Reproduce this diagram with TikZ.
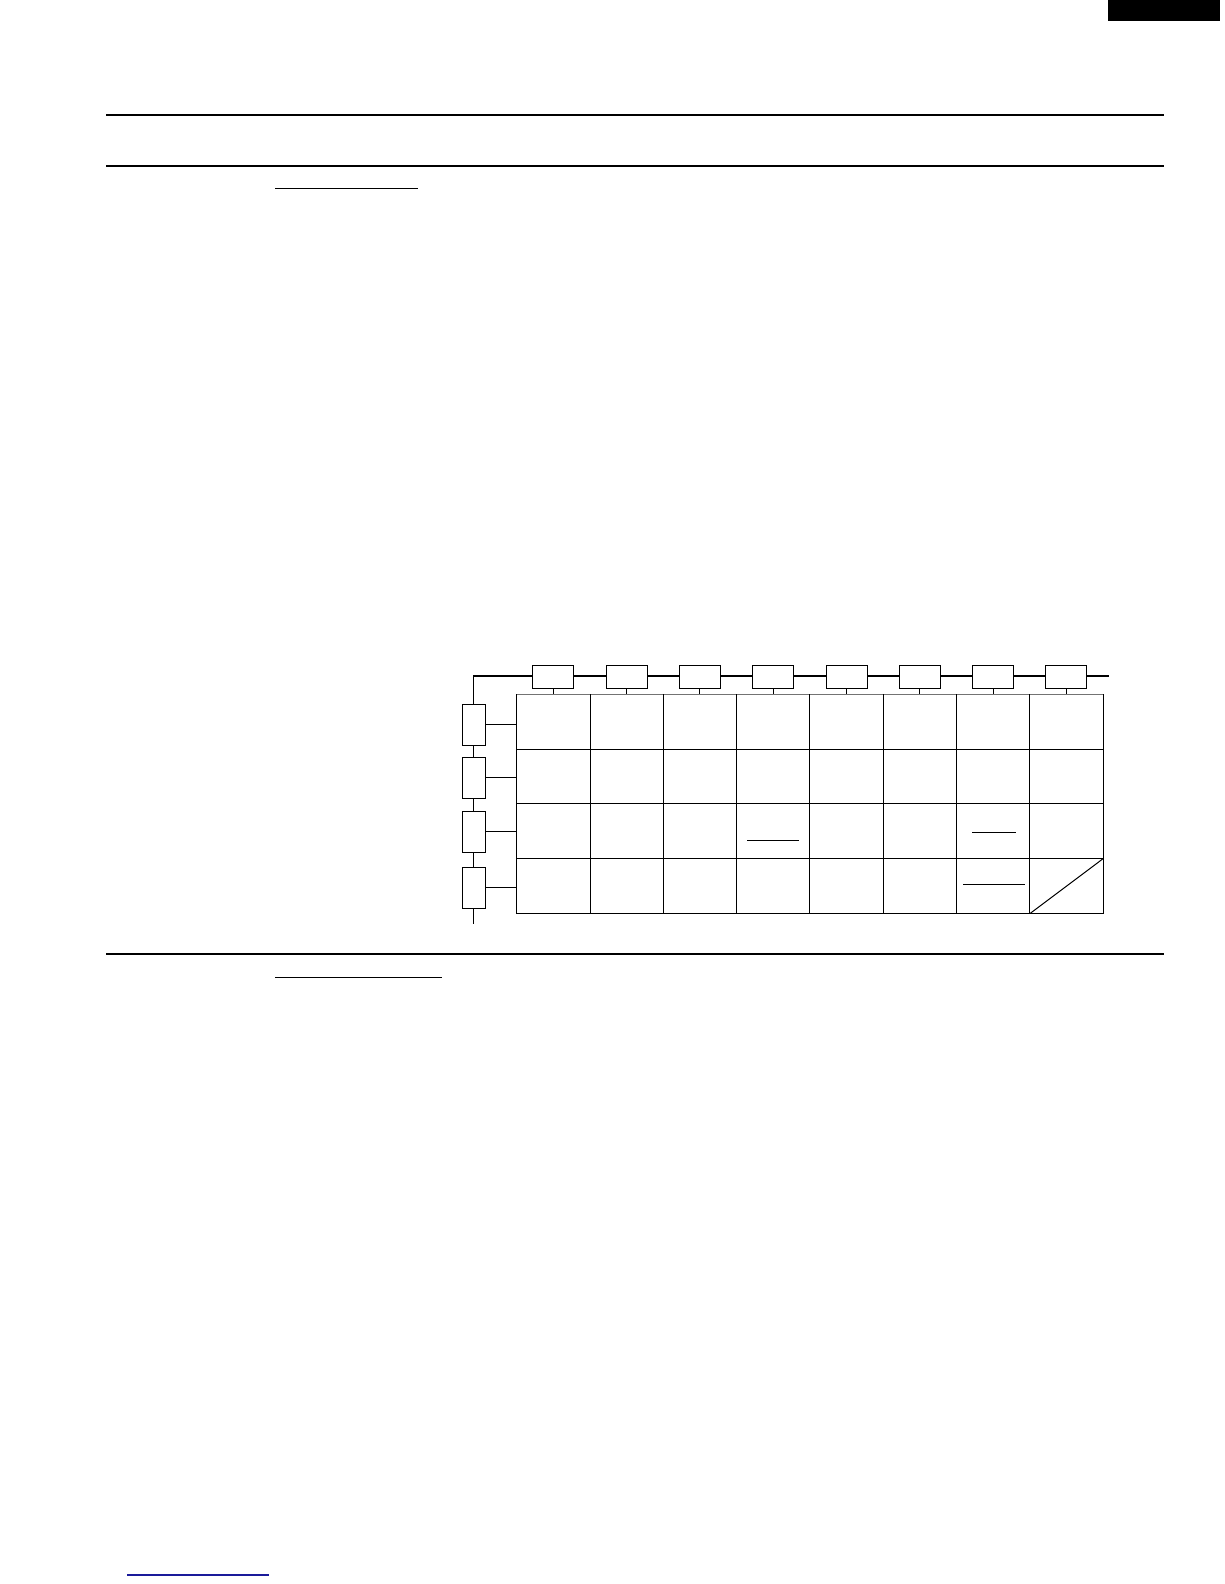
\documentclass[tikz,border=0pt]{standalone}
\definecolor{linkblue}{RGB}{26,26,154}
\begin{document}
\begin{tikzpicture}[x=1pt,y=-1pt,
  rule/.style={line width=2pt},
  bus/.style={line width=1.7pt},
  gridline/.style={line width=1pt},
  uline/.style={line width=1pt},
  tbox/.style={draw,line width=1pt,minimum width=41pt,minimum height=23pt,inner sep=0pt,fill=white},
  lbox/.style={draw,line width=1pt,minimum width=23pt,minimum height=41pt,inner sep=0pt,fill=white},
]
\useasboundingbox (0,0) rectangle (1224,1584);
% black tab at top right
\fill (1108,0) rectangle (1220,21);
% page rules
\draw[rule] (106,115) -- (1164,115);
\draw[rule] (106,166) -- (1164,166);
\draw[rule] (106,954) -- (1164,954);
% heading underlines
\draw[uline] (275,188) -- (418,188);
\draw[uline] (275,977) -- (442,977);
\draw[line width=1.3pt,linkblue] (127,1575) -- (269,1575);
% bus
\coordinate (busTL) at (473.5,676);
\coordinate (busR) at (1109,676);
\coordinate (busB) at (473.5,923.5);
\draw[bus] (busB) -- (busTL) -- (busR);
% grid frame
\node[minimum width=586.6pt,minimum height=219pt,inner sep=0pt,outer sep=0pt,anchor=north west] (grid) at (516.7,694.3) {};
% top boxes
\foreach \i in {1,...,8}{
  \node[tbox] (t\i) at ({516.7+73.3*(\i-0.5)},676.8) {};
  \draw[gridline] (t\i.south) -- (t\i.south |- grid.north);
}
% left boxes
\foreach \j/\y in {1/724.8,2/777.8,3/831.8,4/887.8}{
  \node[lbox] (l\j) at (473.8,\y) {};
  \draw[gridline] (l\j.east) -- (l\j.east -| grid.west);
}
% grid lines
\draw[gridline,black!55] (grid.north west) -- (grid.north east);
\draw[gridline] (grid.north east) -- (grid.south east) -- (grid.south west) -- (grid.north west);
\foreach \i in {1,...,7}{
  \draw[gridline] ({516.7+73.3*\i},694.3) -- ({516.7+73.3*\i},913.3);
}
\foreach \j in {1,2,3}{
  \draw[gridline] (516.7,{694.3+54.75*\j}) -- (1103.3,{694.3+54.75*\j});
}
% blank fields inside cells
\draw[uline] (747,840.3) -- (799,840.3);
\draw[uline] (972,832.3) -- (1016,832.3);
\draw[uline] (963,884.3) -- (1025,884.3);
\draw[gridline] (1030.3,913.3) -- (1103.3,858.5);
\end{tikzpicture}
\end{document}
